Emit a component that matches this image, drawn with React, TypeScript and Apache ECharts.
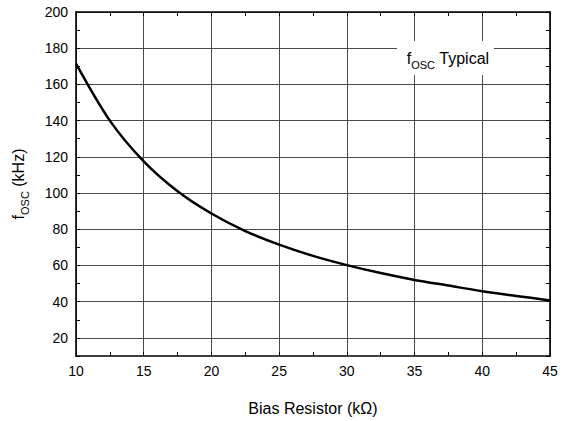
import React, { useEffect, useRef } from "react";
import * as echarts from "echarts";

const resistorK = [10, 12.5, 15, 17.5, 20, 22.5, 25, 27.5, 30, 32.5, 35, 37.5, 40, 42.5, 45];
const foscKHz = [171.5, 140, 117.5, 101, 88.7, 79, 71.5, 65.3, 60.2, 55.8, 52, 48.9, 45.8, 43.2, 40.7];

const xTicks = { min: 10, max: 45, step: 5 };
const yTicks = { min: 10, max: 200, step: 10, labelEvery: 20 };

const FONT = "'Liberation Sans', Arial, Helvetica, sans-serif";

const richSub = {
  m: { fontFamily: FONT, fontSize: 16, color: "#000", fill: "#000", lineHeight: 24, verticalAlign: "middle" },
  s: { fontFamily: FONT, fontSize: 11, color: "#000", fill: "#000", lineHeight: 6, verticalAlign: "bottom" },
};

export default function App() {
  const ref = useRef<HTMLDivElement>(null);
  useEffect(() => {
    if (!ref.current) return;
    const chart = echarts.init(ref.current, undefined, { renderer: "svg" });
    const axisLine = { show: true, lineStyle: { color: "#000", width: 1.6 } };
    const xBase = {
      type: "value",
      min: xTicks.min,
      max: xTicks.max,
      interval: xTicks.step,
      axisLine,
      axisTick: { show: true, inside: true, length: 4, lineStyle: { color: "#000", width: 1 } },
      minorTick: { show: true, splitNumber: 2, length: 4, lineStyle: { color: "#000", width: 1 } },
    };
    const yBase = {
      type: "value",
      min: yTicks.min,
      max: yTicks.max,
      interval: yTicks.step,
      axisLine,
      axisTick: { show: true, inside: true, length: 4, lineStyle: { color: "#000", width: 1 } },
    };
    chart.setOption({
      animation: false,
      backgroundColor: "#fff",
      textStyle: { fontFamily: FONT },
      grid: { left: 76, right: 19, top: 12, bottom: 61, containLabel: false },
      xAxis: [
        {
          ...xBase,
          position: "bottom",
          name: "Bias Resistor (kΩ)",
          nameLocation: "middle",
          nameGap: 44,
          nameTextStyle: { fontFamily: FONT, fontSize: 16, color: "#000" },
          axisLabel: { fontFamily: FONT, fontSize: 14, color: "#000", margin: 8 },
          splitLine: { show: true, lineStyle: { color: "#4a4a4a", width: 1 } },
        },
        {
          ...xBase,
          position: "top",
          axisLabel: { show: false },
          splitLine: { show: false },
        },
      ],
      yAxis: [
        {
          ...yBase,
          position: "left",
          name: "{m|f}{s|OSC}{m| (kHz)}",
          nameLocation: "middle",
          nameGap: 46,
          nameTextStyle: { fontFamily: FONT, color: "#000", rich: richSub },
          axisLabel: {
            fontFamily: FONT,
            fontSize: 14,
            color: "#000",
            margin: 8,
            formatter: (v: number) => (v % yTicks.labelEvery === 0 ? String(v) : ""),
          },
          splitLine: { show: true, lineStyle: { color: ["rgba(0,0,0,0)", "#4a4a4a"], width: 1 } },
        },
        {
          ...yBase,
          position: "right",
          axisLabel: { show: false },
          splitLine: { show: false },
        },
      ],
      graphic: [
        {
          type: "rect",
          shape: { x: 397, y: 41, width: 97, height: 34 },
          style: { fill: "#fff" },
          z: 10,
        },
        {
          type: "text",
          x: 448,
          y: 58,
          z: 11,
          style: {
            text: "{m|f}{s|OSC}{m| Typical}",
            align: "center",
            verticalAlign: "middle",
            fontFamily: FONT,
            rich: richSub,
          },
        },
      ],
      series: [
        {
          type: "line",
          data: resistorK.map((r, i) => [r, foscKHz[i]]),
          smooth: 0.3,
          showSymbol: false,
          silent: true,
          lineStyle: { color: "#000", width: 2.5 },
          z: 5,
        },
      ],
    });
    return () => chart.dispose();
  }, []);
  return (
    <div
      ref={ref}
      style={{ position: "fixed", left: 0, top: 0, width: 569, height: 421, background: "#fff" }}
    />
  );
}
